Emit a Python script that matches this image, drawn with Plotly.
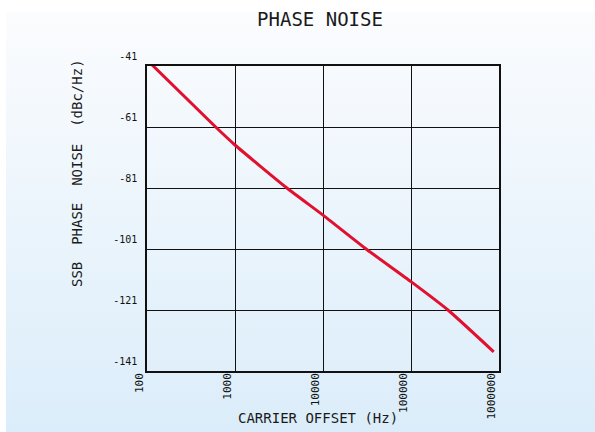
import base64
import plotly.graph_objects as go

# Data
offset_hz = [100, 603, 1000, 3890, 10000, 30900, 100000, 263000, 871000]
noise_dbc = [-39.0, -61.0, -66.9, -81.0, -89.9, -101.0, -111.7, -121.0, -134.7]

x_tick_vals = [100, 1000, 10000, 100000, 1000000]
x_tick_text = ["100", "1000", "10000", "100000", "1000000"]
y_tick_vals = [-41, -61, -81, -101, -121, -141]
y_tick_text = ["-41", "-61", "-81", "-101", "-121", "-141"]

W, H = 595, 432
L, R, T, B = 147, 96, 66, 61
PW, PH = W - L - R, H - T - B

FONT = "DejaVu Sans Mono"

svg = f'''<svg xmlns="http://www.w3.org/2000/svg" width="{W}" height="{H}" viewBox="0 0 {W} {H}" preserveAspectRatio="none">
<defs><linearGradient id="g" x1="0" y1="0" x2="0" y2="1">
<stop offset="0" stop-color="#fbfcfe"/><stop offset="1" stop-color="#dbedfa"/></linearGradient></defs>
<rect x="0" y="0" width="{W}" height="{H}" fill="#ffffff"/>
<rect x="6" y="12" width="{W-6}" height="{H-12}" fill="url(#g)"/>
</svg>'''
src = "data:image/svg+xml;base64," + base64.b64encode(svg.encode()).decode()

fig = go.Figure()
fig.add_trace(go.Scatter(
    x=offset_hz, y=noise_dbc, mode="lines",
    line=dict(color="#e0102e", width=3, shape="spline", smoothing=0.5),
    hoverinfo="skip", showlegend=False, cliponaxis=False,
))

fig.update_layout(
    width=W, height=H,
    margin=dict(l=L, r=R, t=T, b=B, autoexpand=False),
    paper_bgcolor="#ffffff",
    plot_bgcolor="rgba(0,0,0,0)",
    showlegend=False,
    title=dict(text="PHASE NOISE", x=320 / W, xanchor="center", y=1 - 19 / H, yanchor="middle",
               font=dict(family=FONT, size=19, color="#1a1a1a")),
    images=[dict(source=src, xref="paper", yref="paper",
                 x=-L / PW, y=1 + T / PH, sizex=W / PW, sizey=H / PH,
                 xanchor="left", yanchor="top", sizing="stretch", layer="below")],
    xaxis=dict(
        type="log", range=[2, 6], automargin=False,
        tickvals=x_tick_vals, ticktext=x_tick_text, tickangle=-90,
        ticks="", ticklabelshift=-8, ticklabelstandoff=-4,
        showgrid=True, gridcolor="#111111", gridwidth=1,
        showline=True, linecolor="#111111", linewidth=1.5, mirror=True,
        zeroline=False,
        tickfont=dict(family=FONT, size=11, color="#111111"),
    ),
    yaxis=dict(
        range=[-141, -41], automargin=False,
        tickvals=y_tick_vals, ticktext=y_tick_text,
        ticks="", ticklabelshift=-10, ticklabelstandoff=6,
        showgrid=True, gridcolor="#111111", gridwidth=1,
        showline=True, linecolor="#111111", linewidth=1.5, mirror=True,
        zeroline=False,
        tickfont=dict(family=FONT, size=10, color="#111111"),
    ),
    annotations=[
        dict(text="SSB  PHASE  NOISE  (dBc/Hz)", textangle=-90,
             xref="paper", yref="paper",
             x=(77 - L) / PW, y=(H - B - 173) / PH,
             xanchor="center", yanchor="middle", showarrow=False,
             font=dict(family=FONT, size=14, color="#1a1a1a")),
        dict(text="CARRIER OFFSET (Hz)",
             xref="paper", yref="paper",
             x=(318 - L) / PW, y=-(418 - (H - B)) / PH,
             xanchor="center", yanchor="middle", showarrow=False,
             font=dict(family=FONT, size=14, color="#1a1a1a")),
    ],
)

fig.write_html(
    "out.html",
    config={"displayModeBar": False},
    post_script="document.body.style.margin='0';document.body.style.padding='0';document.documentElement.style.overflow='hidden';",
)
